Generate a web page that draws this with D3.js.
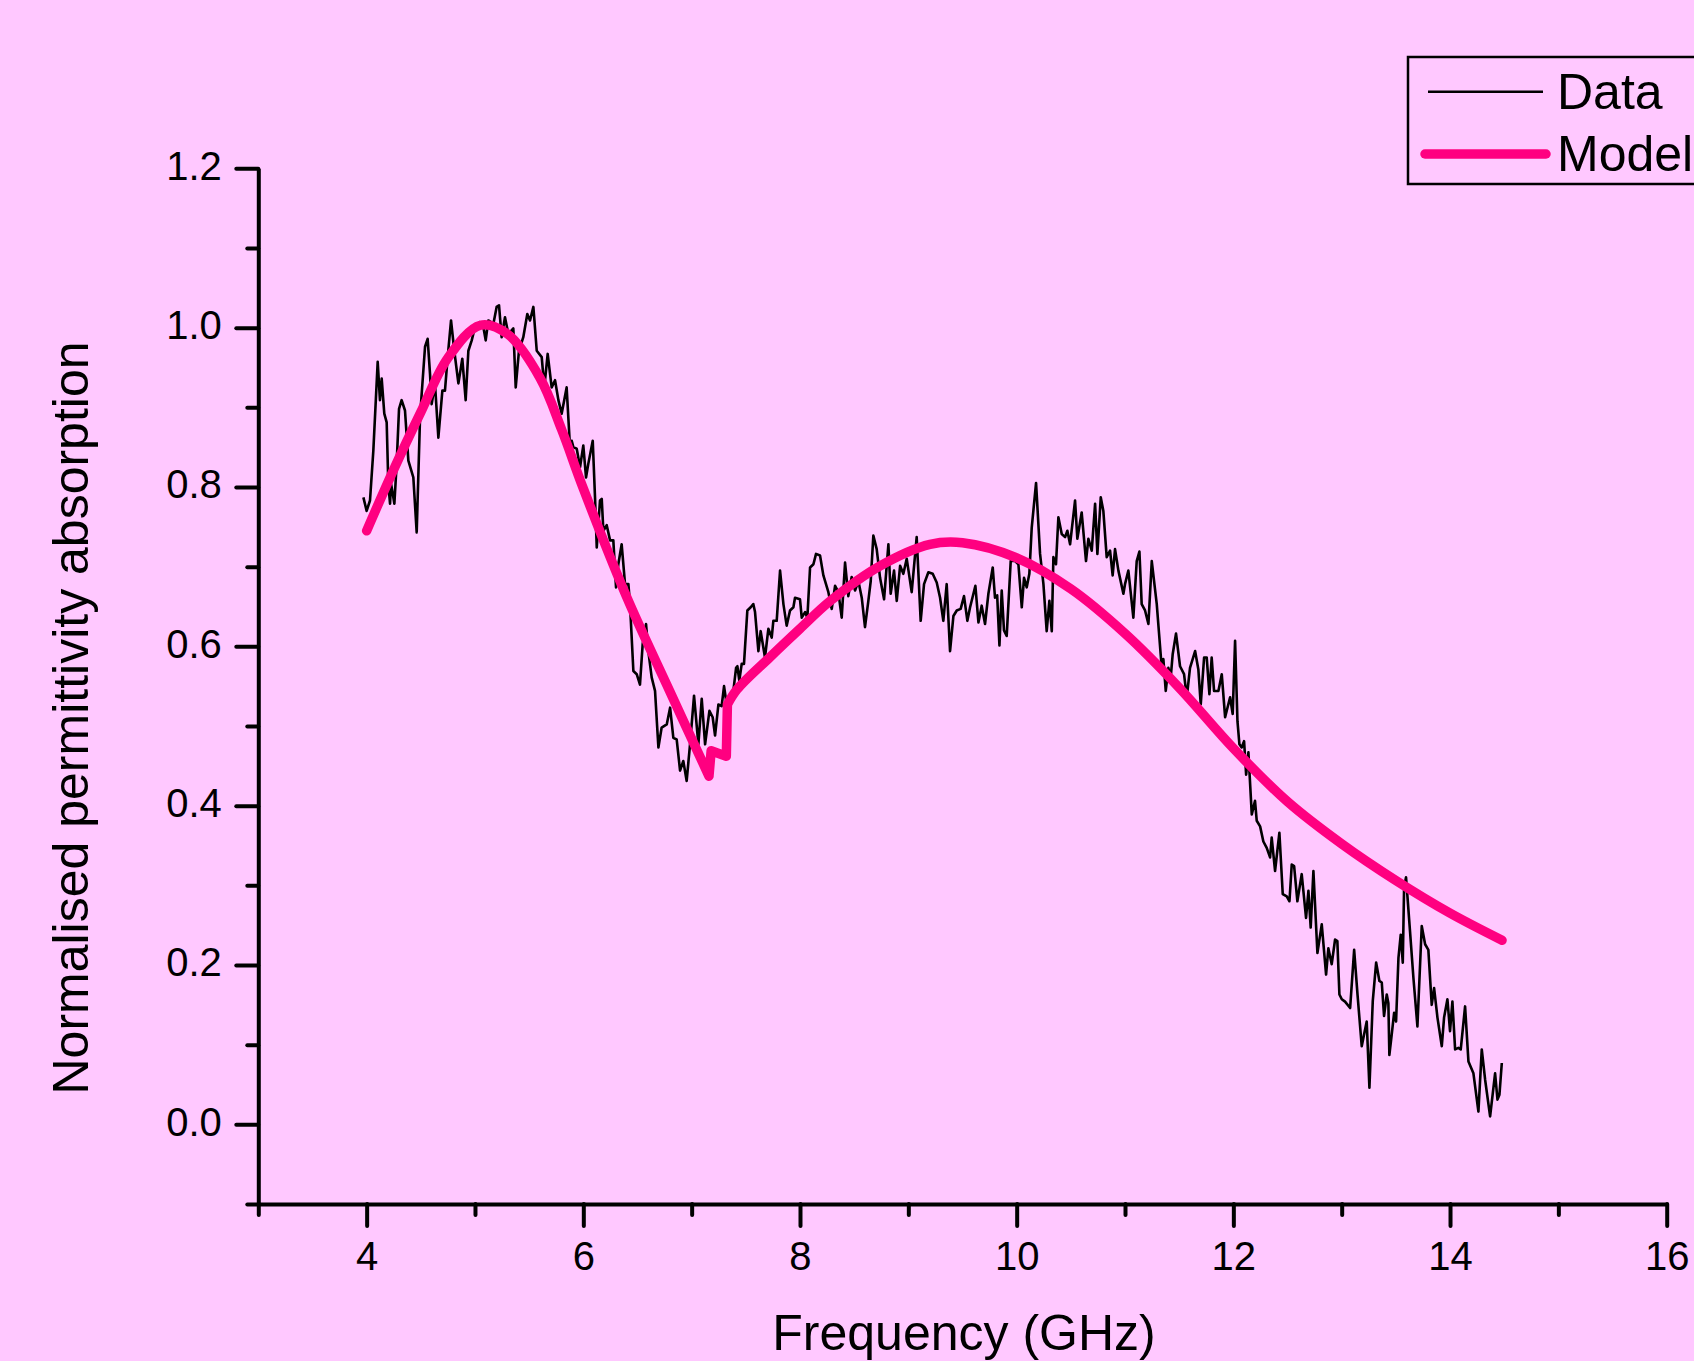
<!DOCTYPE html>
<html>
<head>
<meta charset="utf-8">
<script src="https://cdn.jsdelivr.net/npm/d3@7"></script>
<style>
  html, body { margin: 0; padding: 0; background: #ffc8ff; }
  svg { display: block; font-family: 'Liberation Sans', Arial, sans-serif; }
  .axis .domain { stroke: #000; stroke-width: 4; }
  .axis .tick line { stroke: #000; stroke-width: 4; stroke-linecap: round; }
  .axis text { font-size: 40px; fill: #000; }
</style>
</head>
<body>
<div class="chart"></div>
<script>
// measured spectrum (GHz, normalised absorption)
const dataFreq = [
  3.970, 4.000, 4.031, 4.062, 4.102, 4.123, 4.139, 4.163, 4.185, 4.200, 4.216, 4.225, 4.237, 4.256, 4.277,
  4.299, 4.323, 4.354, 4.385, 4.431, 4.462, 4.493, 4.539, 4.563, 4.585, 4.600, 4.631, 4.662, 4.699, 4.723,
  4.748, 4.779, 4.809, 4.847, 4.883, 4.914, 4.939, 4.970, 5.000, 5.046, 5.077, 5.099, 5.123, 5.170, 5.200,
  5.222, 5.246, 5.277, 5.308, 5.354, 5.376, 5.406, 5.446, 5.483, 5.508, 5.539, 5.570, 5.616, 5.640, 5.671,
  5.708, 5.739, 5.770, 5.800, 5.846, 5.877, 5.893, 5.908, 5.939, 5.970, 6.000, 6.025, 6.046, 6.087, 6.108,
  6.124, 6.154, 6.170, 6.185, 6.216, 6.247, 6.277, 6.302, 6.323, 6.354, 6.385, 6.416, 6.431, 6.462, 6.493,
  6.523, 6.548, 6.579, 6.600, 6.631, 6.662, 6.693, 6.723, 6.770, 6.801, 6.831, 6.862, 6.893, 6.923, 6.954,
  6.985, 7.022, 7.062, 7.093, 7.124, 7.164, 7.194, 7.216, 7.247, 7.277, 7.299, 7.323, 7.354, 7.385, 7.410,
  7.422, 7.440, 7.462, 7.483, 7.514, 7.545, 7.569, 7.585, 7.616, 7.637, 7.677, 7.708, 7.739, 7.754, 7.785,
  7.816, 7.847, 7.877, 7.908, 7.939, 7.954, 8.000, 8.016, 8.047, 8.068, 8.093, 8.124, 8.148, 8.185, 8.216,
  8.262, 8.293, 8.324, 8.354, 8.385, 8.416, 8.446, 8.477, 8.508, 8.539, 8.570, 8.600, 8.631, 8.653, 8.677,
  8.708, 8.739, 8.776, 8.816, 8.837, 8.868, 8.893, 8.924, 8.954, 8.985, 9.031, 9.077, 9.114, 9.145, 9.185,
  9.225, 9.262, 9.293, 9.323, 9.354, 9.385, 9.416, 9.447, 9.483, 9.514, 9.545, 9.570, 9.619, 9.647, 9.677,
  9.708, 9.739, 9.779, 9.800, 9.820, 9.841, 9.862, 9.883, 9.908, 9.945, 9.985, 10.016, 10.047, 10.068, 10.093,
  10.117, 10.139, 10.179, 10.216, 10.247, 10.277, 10.302, 10.324, 10.339, 10.363, 10.385, 10.416, 10.447, 10.468, 10.493,
  10.539, 10.560, 10.600, 10.640, 10.662, 10.693, 10.724, 10.745, 10.776, 10.800, 10.831, 10.862, 10.886, 10.908, 10.939,
  10.985, 11.000, 11.031, 11.077, 11.108, 11.133, 11.154, 11.185, 11.216, 11.247, 11.293, 11.339, 11.354, 11.376, 11.400,
  11.422, 11.440, 11.471, 11.508, 11.545, 11.570, 11.600, 11.647, 11.677, 11.699, 11.730, 11.754, 11.779, 11.800, 11.822,
  11.862, 11.893, 11.924, 11.970, 11.994, 12.016, 12.038, 12.056, 12.077, 12.099, 12.118, 12.139, 12.170, 12.200, 12.216,
  12.247, 12.277, 12.308, 12.339, 12.354, 12.385, 12.425, 12.456, 12.493, 12.518, 12.539, 12.561, 12.591, 12.631, 12.671,
  12.693, 12.714, 12.739, 12.776, 12.816, 12.856, 12.877, 12.908, 12.939, 12.960, 12.979, 13.001, 13.031, 13.078, 13.115,
  13.146, 13.185, 13.207, 13.231, 13.256, 13.287, 13.318, 13.348, 13.370, 13.391, 13.416, 13.431, 13.440, 13.462, 13.484,
  13.502, 13.524, 13.545, 13.564, 13.576, 13.594, 13.631, 13.662, 13.699, 13.739, 13.770, 13.800, 13.831, 13.853, 13.884,
  13.924, 13.945, 13.976, 14.000, 14.022, 14.047, 14.077, 14.099, 14.139, 14.170, 14.216, 14.262, 14.293, 14.324, 14.370,
  14.416, 14.438, 14.456, 14.478
];
const dataValue = [
  0.787, 0.770, 0.783, 0.846, 0.957, 0.909, 0.936, 0.892, 0.881, 0.804, 0.779, 0.804, 0.795, 0.779, 0.829,
  0.898, 0.909, 0.896, 0.833, 0.812, 0.743, 0.888, 0.976, 0.986, 0.942, 0.904, 0.929, 0.862, 0.921, 0.921,
  0.963, 1.009, 0.971, 0.930, 0.961, 0.909, 0.971, 0.984, 1.001, 1.007, 1.001, 0.984, 1.009, 1.005, 1.026,
  1.028, 0.988, 1.013, 0.992, 0.999, 0.925, 0.971, 0.988, 1.017, 1.009, 1.026, 0.971, 0.963, 0.925, 0.967,
  0.925, 0.934, 0.909, 0.892, 0.925, 0.850, 0.858, 0.850, 0.848, 0.825, 0.852, 0.812, 0.829, 0.858, 0.787,
  0.724, 0.783, 0.785, 0.745, 0.752, 0.733, 0.733, 0.674, 0.703, 0.728, 0.678, 0.678, 0.653, 0.569, 0.565,
  0.552, 0.603, 0.628, 0.594, 0.561, 0.544, 0.473, 0.498, 0.502, 0.523, 0.485, 0.483, 0.444, 0.456, 0.431,
  0.477, 0.538, 0.477, 0.534, 0.477, 0.519, 0.511, 0.488, 0.527, 0.525, 0.550, 0.527, 0.536, 0.544, 0.573,
  0.575, 0.557, 0.578, 0.578, 0.645, 0.649, 0.653, 0.643, 0.594, 0.619, 0.586, 0.622, 0.611, 0.632, 0.632,
  0.695, 0.653, 0.626, 0.645, 0.649, 0.661, 0.659, 0.636, 0.643, 0.636, 0.699, 0.703, 0.716, 0.714, 0.689,
  0.668, 0.647, 0.676, 0.668, 0.636, 0.705, 0.663, 0.687, 0.670, 0.682, 0.661, 0.624, 0.657, 0.682, 0.739,
  0.722, 0.686, 0.659, 0.728, 0.666, 0.695, 0.657, 0.701, 0.691, 0.710, 0.668, 0.737, 0.632, 0.678, 0.693,
  0.691, 0.680, 0.661, 0.632, 0.678, 0.594, 0.638, 0.645, 0.647, 0.663, 0.632, 0.649, 0.676, 0.630, 0.651,
  0.628, 0.666, 0.699, 0.661, 0.664, 0.601, 0.670, 0.620, 0.613, 0.707, 0.707, 0.703, 0.649, 0.686, 0.674,
  0.691, 0.749, 0.805, 0.716, 0.678, 0.619, 0.657, 0.619, 0.712, 0.703, 0.762, 0.741, 0.737, 0.745, 0.728,
  0.783, 0.735, 0.768, 0.707, 0.735, 0.720, 0.779, 0.716, 0.787, 0.770, 0.712, 0.720, 0.689, 0.722, 0.695,
  0.666, 0.678, 0.695, 0.636, 0.707, 0.719, 0.653, 0.645, 0.628, 0.707, 0.653, 0.573, 0.584, 0.544, 0.573,
  0.561, 0.590, 0.616, 0.575, 0.565, 0.536, 0.573, 0.594, 0.571, 0.527, 0.586, 0.586, 0.540, 0.586, 0.544,
  0.544, 0.565, 0.511, 0.536, 0.515, 0.607, 0.506, 0.477, 0.473, 0.481, 0.439, 0.467, 0.389, 0.406, 0.381,
  0.374, 0.355, 0.347, 0.335, 0.360, 0.318, 0.366, 0.289, 0.286, 0.280, 0.326, 0.324, 0.280, 0.314, 0.259,
  0.293, 0.247, 0.318, 0.215, 0.251, 0.188, 0.221, 0.201, 0.232, 0.230, 0.163, 0.157, 0.154, 0.146, 0.219,
  0.163, 0.098, 0.113, 0.129, 0.046, 0.155, 0.203, 0.180, 0.178, 0.136, 0.163, 0.152, 0.087, 0.113, 0.140,
  0.129, 0.209, 0.238, 0.203, 0.297, 0.310, 0.242, 0.184, 0.123, 0.249, 0.226, 0.219, 0.150, 0.171, 0.134,
  0.098, 0.134, 0.157, 0.117, 0.154, 0.094, 0.096, 0.094, 0.148, 0.079, 0.064, 0.016, 0.094, 0.056, 0.010,
  0.064, 0.031, 0.037, 0.077
];

// fitted model curve, in three pieces: first peak, the step near 7.2 GHz, second peak
const modelPeak1Freq = [4.00, 4.25, 4.50, 4.75, 5.05, 5.30, 5.60, 5.80, 6.00, 6.40, 6.80, 7.16];
const modelPeak1Value = [0.745, 0.822, 0.894, 0.962, 1.003, 0.992, 0.937, 0.872, 0.798, 0.662, 0.543, 0.437];
const modelStepFreq = [7.16, 7.18, 7.32, 7.33];
const modelStepValue = [0.437, 0.469, 0.462, 0.527];
const modelPeak2Freq = [
  7.33, 7.42, 7.72, 8.00, 8.28, 8.74, 9.20, 9.50, 10.00, 10.50, 11.00, 11.50, 12.00, 12.50, 13.00,
  13.50, 14.00, 14.48
];
const modelPeak2Value = [
  0.527, 0.546, 0.586, 0.622, 0.657, 0.701, 0.728, 0.730, 0.711, 0.672, 0.616, 0.548, 0.472, 0.405, 0.352,
  0.306, 0.265, 0.231
];

const xMajorTicks = [4, 6, 8, 10, 12, 14, 16];
const xMinorTicks = [3, 5, 7, 9, 11, 13, 15];
const yMajorTicks = [0, 0.2, 0.4, 0.6, 0.8, 1.0, 1.2];
const yMinorTicks = [-0.1, 0.1, 0.3, 0.5, 0.7, 0.9, 1.1];

const seriesNames = ['Data', 'Model'];

const width = 1694;
const height = 1361;
const modelColour = '#ff0080';

const svg = d3
  .select('div.chart')
  .append('svg')
  .attr('width', width)
  .attr('height', height);

svg.append('rect')
  .attr('width', width)
  .attr('height', height)
  .attr('fill', '#ffc8ff');

const x = d3.scaleLinear().domain([3, 16]).range([258.3, 1666.7]);
const y = d3.scaleLinear().domain([-0.1, 1.2]).range([1204, 168.3]);

// x axis: minor ticks first, then major with labels
svg.append('g')
  .attr('class', 'axis')
  .attr('transform', `translate(0,${y(-0.1)})`)
  .call(d3.axisBottom(x).tickValues(xMinorTicks).tickSize(11).tickSizeOuter(0).tickFormat(''))
  .call((g) => g.select('.domain').remove());

svg.append('g')
  .attr('class', 'axis')
  .attr('transform', `translate(0,${y(-0.1)})`)
  .call(d3.axisBottom(x).tickValues(xMajorTicks).tickSize(22).tickSizeOuter(0).tickPadding(15.5).tickFormat(d3.format('d')));

// y axis
svg.append('g')
  .attr('class', 'axis')
  .attr('transform', `translate(${x(3)},0)`)
  .call(d3.axisLeft(y).tickValues(yMinorTicks).tickSize(11).tickSizeOuter(0).tickFormat(''))
  .call((g) => g.select('.domain').remove());

svg.append('g')
  .attr('class', 'axis')
  .attr('transform', `translate(${x(3)},0)`)
  .call(d3.axisLeft(y).tickValues(yMajorTicks).tickSize(22).tickSizeOuter(0).tickPadding(14.5).tickFormat(d3.format('.1f')))
  .call((g) => g.selectAll('.tick text').attr('dy', '0.27em'));

// axis titles
svg.append('text')
  .attr('x', 964)
  .attr('y', 1350)
  .attr('text-anchor', 'middle')
  .attr('font-size', 50)
  .text('Frequency (GHz)');

svg.append('text')
  .attr('transform', 'translate(88,718) rotate(-90)')
  .attr('text-anchor', 'middle')
  .attr('font-size', 50)
  .text('Normalised permittivity absorption');

// series
const zip = (xs, ys) => xs.map((f, i) => [f, ys[i]]);

const dataLine = d3.line()
  .x((d) => x(d[0]))
  .y((d) => y(d[1]));

const smoothLine = d3.line()
  .curve(d3.curveCatmullRom.alpha(0.5))
  .x((d) => x(d[0]))
  .y((d) => y(d[1]));

svg.append('path')
  .datum(zip(dataFreq, dataValue))
  .attr('d', dataLine)
  .attr('fill', 'none')
  .attr('stroke', '#000')
  .attr('stroke-width', 2.6)
  .attr('stroke-linejoin', 'round');

const modelPieces = [
  { pts: zip(modelPeak1Freq, modelPeak1Value), gen: smoothLine },
  { pts: zip(modelStepFreq, modelStepValue), gen: dataLine },
  { pts: zip(modelPeak2Freq, modelPeak2Value), gen: smoothLine },
];

svg.append('path')
  .attr('d', modelPieces.map((p) => p.gen(p.pts)).join(''))
  .attr('fill', 'none')
  .attr('stroke', modelColour)
  .attr('stroke-width', 9.5)
  .attr('stroke-linecap', 'round')
  .attr('stroke-linejoin', 'round');

// legend
const legend = svg.append('g');
legend.append('rect')
  .attr('x', 1408)
  .attr('y', 57)
  .attr('width', 320)
  .attr('height', 127)
  .attr('fill', 'none')
  .attr('stroke', '#000')
  .attr('stroke-width', 2.5);

legend.append('line')
  .attr('x1', 1428).attr('x2', 1543)
  .attr('y1', 91.7).attr('y2', 91.7)
  .attr('stroke', '#000')
  .attr('stroke-width', 2.6);

legend.append('line')
  .attr('x1', 1425).attr('x2', 1546)
  .attr('y1', 154).attr('y2', 154)
  .attr('stroke', modelColour)
  .attr('stroke-width', 9.5)
  .attr('stroke-linecap', 'round');

legend.selectAll('text.legend-label')
  .data(seriesNames)
  .enter()
  .append('text')
  .attr('class', 'legend-label')
  .attr('x', 1557)
  .attr('y', (d, i) => (i === 0 ? 109 : 171))
  .attr('font-size', 50)
  .text((d) => d);
</script>
</body>
</html>
